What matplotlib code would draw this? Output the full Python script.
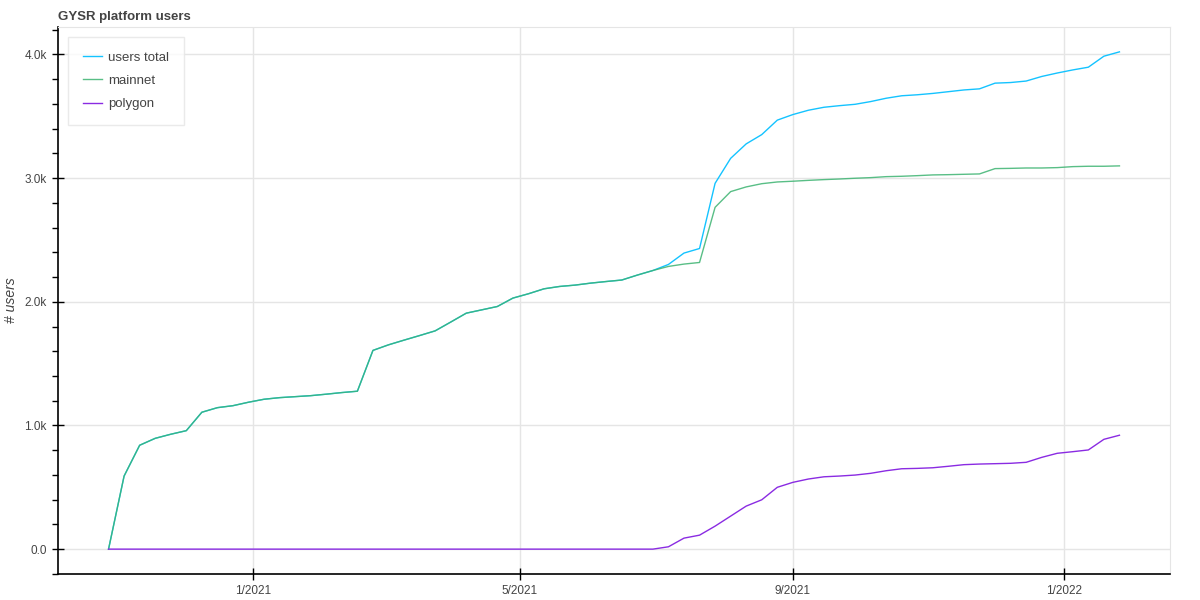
import datetime as dt
import matplotlib
matplotlib.use('Agg')
import matplotlib.pyplot as plt
from matplotlib.dates import MonthLocator
from matplotlib.ticker import FuncFormatter, MultipleLocator
import matplotlib.dates as mdates

plt.rcParams['font.family'] = ['Liberation Sans', 'DejaVu Sans']

# weekly snapshots, starting Wed 28 Oct 2020
start = dt.date(2020, 10, 28)
n_weeks = 66
dates = [start + dt.timedelta(weeks=i) for i in range(n_weeks)]

mainnet = [0, 591, 840, 896, 929, 958, 1107, 1144, 1160, 1188,
           1212, 1225, 1233, 1241, 1253, 1266, 1277, 1607, 1652, 1690,
           1727, 1765, 1836, 1908, 1935, 1962, 2030, 2065, 2105, 2124,
           2135, 2151, 2164, 2176, 2216, 2253, 2286, 2305, 2318, 2764,
           2891, 2929, 2955, 2969, 2975, 2982, 2988, 2993, 2999, 3004,
           3012, 3015, 3020, 3026, 3028, 3031, 3034, 3077, 3079, 3082,
           3082, 3085, 3093, 3096, 3096, 3099]

polygon = [0] * 35 + [0, 19, 89, 113, 186, 267, 348, 399, 500, 540,
                      567, 585, 591, 599, 613, 634, 650, 653, 658, 670,
                      683, 688, 691, 694, 702, 742, 775, 788, 802, 888,
                      921]

users_total = [0, 591, 840, 896, 929, 958, 1107, 1144, 1160, 1188,
               1212, 1225, 1233, 1241, 1253, 1266, 1277, 1607, 1652, 1690,
               1727, 1765, 1836, 1908, 1935, 1962, 2030, 2065, 2105, 2124,
               2135, 2151, 2164, 2176, 2216, 2253, 2302, 2394, 2431, 2958,
               3160, 3277, 3352, 3469, 3514, 3549, 3573, 3586, 3597, 3619,
               3646, 3666, 3674, 3685, 3699, 3713, 3722, 3768, 3773, 3785,
               3822, 3850, 3875, 3897, 3986, 4021]

txt = '#444444'
grid = '#e5e5e5'

fig = plt.figure(figsize=(12, 6), dpi=100)
ax = fig.add_axes([58 / 1200, 26 / 600, 1112 / 1200, 547 / 600])

ax.plot(dates, users_total, color='#14c3ff', lw=1.0, label='users total')
ax.plot(dates, mainnet, color='#3cb371', lw=1.0, alpha=0.85, label='mainnet')
ax.plot(dates, polygon, color='#8a2be2', lw=1.0, label='polygon')

ax.margins(x=0.05, y=0.05)

ax.xaxis.set_major_locator(MonthLocator(bymonth=[1, 5, 9]))
ax.xaxis.set_major_formatter(FuncFormatter(
    lambda v, p: '{}/{}'.format(mdates.num2date(v).month, mdates.num2date(v).year)))

ax.yaxis.set_major_locator(MultipleLocator(1000))
ax.yaxis.set_minor_locator(MultipleLocator(200))
ax.yaxis.set_major_formatter(FuncFormatter(
    lambda v, p: '0.0' if v == 0 else '{:.1f}k'.format(v / 1000)))

ax.grid(True, color=grid, lw=1)
ax.set_axisbelow(True)

for s in ['top', 'right']:
    ax.spines[s].set_color(grid)
for s in ['left', 'bottom']:
    ax.spines[s].set_color('black')
    ax.spines[s].set_linewidth(1.2)

ax.tick_params(axis='both', which='major', direction='inout', length=8,
               width=1, labelsize=8.5, labelcolor=txt, pad=4)
ax.tick_params(axis='y', which='minor', direction='out', length=4, width=1)

ax.set_ylabel('# users', fontsize=10, fontstyle='italic', color=txt, labelpad=5)
ax.set_title('GYSR platform users', loc='left', fontsize=9.5,
             fontweight='bold', color=txt, pad=5)

leg = ax.legend(loc='upper left', bbox_to_anchor=(10 / 1112, 1 - 10 / 547),
                borderaxespad=0, fontsize=9.5, frameon=True, fancybox=False,
                edgecolor=grid, handlelength=1.45, labelspacing=0.82,
                borderpad=1.12, handletextpad=0.45, labelcolor=txt)
leg.get_frame().set_linewidth(1)

fig.savefig('out.png', dpi=100)
